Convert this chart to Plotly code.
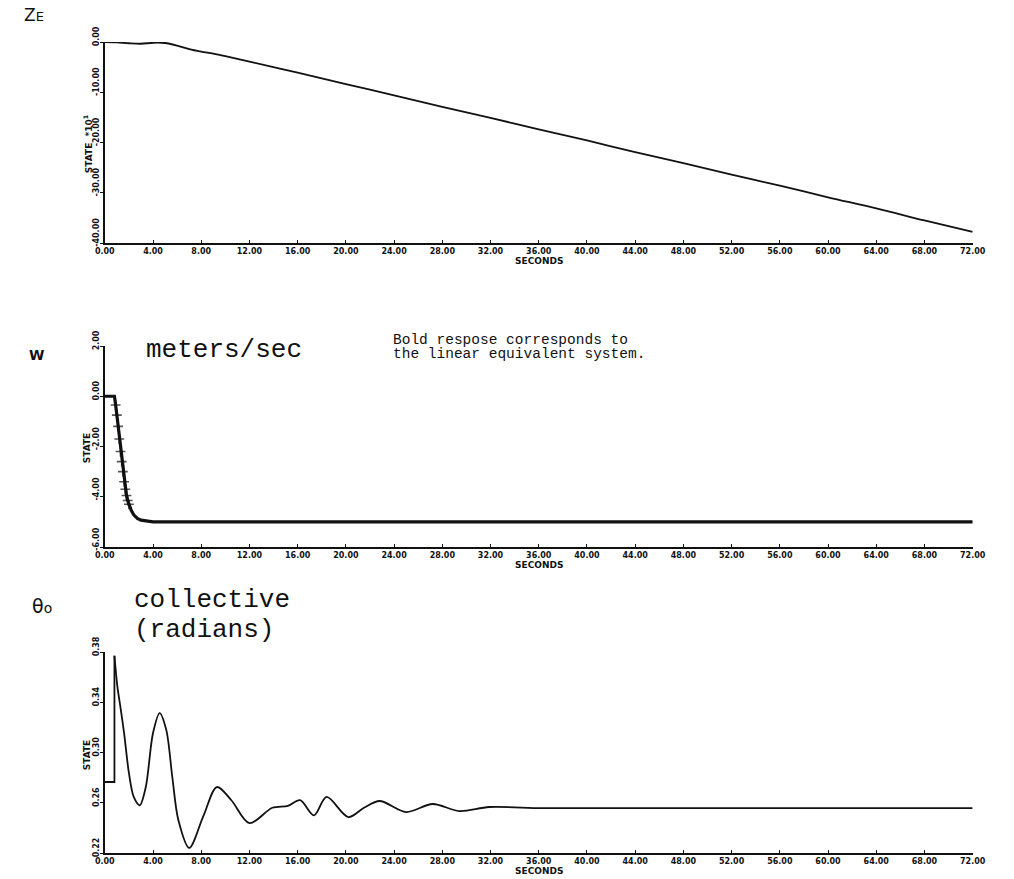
import plotly.graph_objects as go

# ---- time axis (seconds) ----
x_ticks = [0, 4, 8, 12, 16, 20, 24, 28, 32, 36, 40, 44, 48, 52, 56, 60, 64, 68, 72]
x_ticktext = ["%.2f" % v for v in x_ticks]

# ---- Ze : vertical position (state * 10) ----
ze_t = [0, 1, 2, 3, 4, 5, 6, 7, 8, 9, 10, 12, 16, 20, 24, 28, 32, 36, 40, 44,
        48, 52, 56, 60, 64, 68, 72]
ze_v = [0.0, -0.05, -0.25, -0.35, -0.15, -0.2, -0.7, -1.4, -1.9, -2.3, -2.8,
        -3.9, -6.1, -8.4, -10.6, -12.9, -15.1, -17.4, -19.6, -21.9, -24.1,
        -26.4, -28.6, -30.9, -33.1, -35.5, -37.8]
ze_ticks = [0, -10, -20, -30, -40]
ze_ticktext = ["0.00", "-10.00", "-20.00", "-30.00", "-40.00"]

# ---- W : vertical velocity, nonlinear and linear-equivalent ----
w_nl_t = [0, 0.8, 1.0, 1.2, 1.4, 1.6, 1.8, 2.0, 2.4, 2.8, 3.2, 4.0, 72]
w_nl_v = [0.0, 0.0, -0.7, -1.65, -2.55, -3.35, -3.9, -4.28, -4.7, -4.88,
          -4.95, -5.0, -5.0]
w_lin_t = [0, 0.8, 0.9, 1.0, 1.1, 1.2, 1.3, 1.4, 1.5, 1.6, 1.7, 1.8, 1.9, 2.0,
           2.2, 2.4, 2.7, 3.0, 3.5, 4.0, 72]
w_lin_v = [0.0, 0.0, -0.35, -0.75, -1.2, -1.7, -2.2, -2.6, -3.0, -3.4, -3.7,
           -3.95, -4.15, -4.3, -4.55, -4.72, -4.86, -4.93, -4.98, -5.0, -5.0]
w_ticks = [2, 0, -2, -4, -6]
w_ticktext = ["2.00", "0.00", "-2.00", "-4.00", "-6.00"]

# ---- theta_0 : collective (radians) ----
th_step_t = [0, 0.8, 0.8]
th_step_v = [0.2765, 0.2765, 0.377]
th_t = [0.8, 1.05, 1.3, 1.6, 2.0, 2.4, 2.9, 3.4, 4.0, 4.55, 5.1, 5.6, 6.1, 7.0,
        8.2, 9.3, 10.5, 12.0, 13.9, 15.2, 16.2, 17.35, 18.4, 20.2, 21.5, 22.8,
        25.0, 27.2, 29.4, 31.9, 36.0, 72.0]
th_v = [0.377, 0.352, 0.336, 0.3155, 0.2837, 0.2646, 0.258, 0.2725, 0.3155,
        0.3314, 0.318, 0.2805, 0.2463, 0.224, 0.250, 0.2725, 0.262, 0.2438,
        0.256, 0.2575, 0.262, 0.250, 0.2646, 0.2486, 0.256, 0.2614, 0.2526,
        0.259, 0.2534, 0.2566, 0.2558, 0.2558]
th_ticks = [0.38, 0.34, 0.30, 0.26, 0.22]
th_ticktext = ["0.38", "0.34", "0.30", "0.26", "0.22"]

W, H = 1014, 879
X0, X1 = 97, 985
panels = [(42, 243), (346, 547), (652, 853)]  # pixel top/bottom of each plot area


def ydom(top, bot):
    return [(H - bot) / H, (H - top) / H]


def px(x, y):
    return x / W, (H - y) / H


fig = go.Figure()
BLACK = "#111111"

fig.add_trace(go.Scatter(x=ze_t, y=ze_v, mode="lines", line=dict(color=BLACK, width=1.8, shape="spline"),
                         xaxis="x", yaxis="y", showlegend=False))

fig.add_trace(go.Scatter(x=w_nl_t, y=w_nl_v, mode="lines", line=dict(color=BLACK, width=1.3),
                         xaxis="x2", yaxis="y2", showlegend=False))
marker_sizes = [7 if 0.85 < t < 2.05 else 0 for t in w_lin_t]
fig.add_trace(go.Scatter(x=w_lin_t, y=w_lin_v, mode="lines+markers",
                         line=dict(color=BLACK, width=3.2),
                         marker=dict(symbol="cross-thin", size=marker_sizes,
                                     line=dict(color=BLACK, width=1.6)),
                         xaxis="x2", yaxis="y2", showlegend=False))

fig.add_trace(go.Scatter(x=th_step_t, y=th_step_v, mode="lines", line=dict(color=BLACK, width=1.8),
                         xaxis="x3", yaxis="y3", showlegend=False))
fig.add_trace(go.Scatter(x=th_t, y=th_v, mode="lines", line=dict(color=BLACK, width=1.8, shape="spline", smoothing=0.9),
                         xaxis="x3", yaxis="y3", showlegend=False))

tickfont = dict(family="DejaVu Sans", size=8, color=BLACK, weight="bold")
xdom = [X0 / W, X1 / W]

axis_common = dict(showgrid=False, zeroline=False, showline=True, linecolor=BLACK, linewidth=1.6,
                   mirror=False)

layout = dict(width=W, height=H, autosize=False, margin=dict(l=0, r=0, t=0, b=0),
              paper_bgcolor="white", plot_bgcolor="white", showlegend=False)

yranges = [[-40, 0], [-6, 2], [0.22, 0.38]]
yticks = [(ze_ticks, ze_ticktext), (w_ticks, w_ticktext), (th_ticks, th_ticktext)]
annotations = []
for i, (top, bot) in enumerate(panels):
    sfx = "" if i == 0 else str(i + 1)
    layout["xaxis" + sfx] = dict(domain=xdom, range=[0, 72], tickvals=x_ticks, ticktext=x_ticktext,
                                 ticks="inside", ticklen=3, tickcolor=BLACK, tickfont=tickfont,
                                 anchor="y" + sfx, **axis_common)
    layout["yaxis" + sfx] = dict(domain=ydom(top, bot), range=yranges[i], tickvals=yticks[i][0],
                                 ticks="outside", ticklen=3, tickcolor=BLACK, showticklabels=False,
                                 anchor="x" + sfx, **axis_common)
    # rotated y tick labels
    for v, txt in zip(*yticks[i]):
        annotations.append(dict(x=95 / W, xref="paper", xanchor="right", y=v, yref="y" + sfx,
                                yanchor="bottom", yshift=-6, text=txt, textangle=-90,
                                showarrow=False, font=tickfont))
    # x axis title
    sx, sy = px(541, bot + 18)
    annotations.append(dict(x=sx, y=sy, xref="paper", yref="paper",
                            text="SECONDS", showarrow=False, xanchor="center", yanchor="middle",
                            font=dict(family="DejaVu Sans", size=9, color=BLACK, weight="bold")))

# y axis titles
ytitle_font = dict(family="DejaVu Sans", size=9, color=BLACK, weight="bold")
for (tx, ty), txt in [((80, 144), "STATE  *10<sup>1</sup>"), ((79, 448), "STATE"), ((79, 755), "STATE")]:
    ax_, ay_ = px(tx, ty)
    annotations.append(dict(x=ax_, y=ay_, xref="paper", yref="paper", text=txt,
                            xanchor="center", yanchor="middle", textangle=-90,
                            showarrow=False, font=ytitle_font))

# panel labels and notes
labels = [
    ((12, 15), "Z<span style='font-size:13px'>E</span>", dict(family="DejaVu Sans", size=17, color=BLACK)),
    ((17, 355), "W", dict(family="DejaVu Sans", size=14, color=BLACK, weight="bold")),
    ((20, 606), "θ<span style='font-size:14px'>o</span>", dict(family="DejaVu Sans", size=19, color=BLACK)),
    ((137, 350), "meters/sec", dict(family="Liberation Mono", size=26, color=BLACK)),
    ((390, 340), "Bold respose corresponds to", dict(family="Liberation Mono", size=14.5, color=BLACK)),
    ((390, 354), "the linear equivalent system.", dict(family="Liberation Mono", size=14.5, color=BLACK)),
    ((125, 600), "collective", dict(family="Liberation Mono", size=26, color=BLACK)),
    ((125, 630), "(radians)", dict(family="Liberation Mono", size=26, color=BLACK)),
]
for (lx, ly), txt, fnt in labels:
    ax_, ay_ = px(lx, ly)
    annotations.append(dict(x=ax_, y=ay_, xref="paper", yref="paper", xanchor="left", yanchor="middle",
                            text=txt, showarrow=False, font=fnt))

layout["annotations"] = annotations
fig.update_layout(**layout)
fig.write_html("out.html")
